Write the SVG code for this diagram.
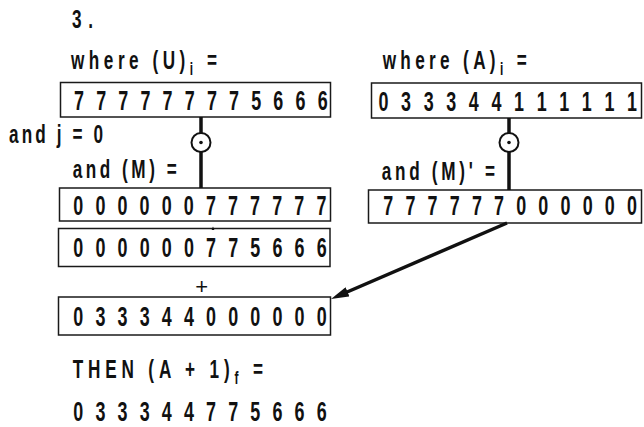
<svg xmlns="http://www.w3.org/2000/svg" width="644" height="427" viewBox="0 0 644 427">
<style>
.box{fill:none;stroke:#1a1a1a;stroke-width:1.5}
.dg{font-family:"Liberation Sans",Arial,sans-serif;font-size:28px;font-weight:bold;fill:#111;text-anchor:middle}
.lb{font-family:"Liberation Sans",Arial,sans-serif;font-size:26px;font-weight:bold;fill:#111}
.sub{font-size:18px}
.plus{font-family:"Liberation Sans",Arial,sans-serif;font-size:22px;fill:#111;text-anchor:middle}
.wire{fill:none;stroke:#111;stroke-width:3.5}
.ring{fill:#fff;stroke:#111;stroke-width:2}
.dot{fill:#111}
</style>
<defs>
<marker id="ah" markerUnits="userSpaceOnUse" markerWidth="18" markerHeight="10" refX="8" refY="5" orient="auto">
<path d="M0,0 L18,5 L0,10 z" fill="#111"/>
</marker>
</defs>
<rect width="644" height="427" fill="#fff"/>

<g id="labels">
<text class="lb" transform="scale(0.66,1)" x="109.1" y="28" font-size="29" textLength="31.8" lengthAdjust="spacing">3.</text>
<text class="lb" transform="scale(0.66,1)" x="107.58" y="69" textLength="221.2" lengthAdjust="spacing">where (U)<tspan class="sub" dy="6">i</tspan><tspan dy="-6"> =</tspan></text>
<text class="lb" transform="scale(0.66,1)" x="579.85" y="69" textLength="218.2" lengthAdjust="spacing">where (A)<tspan class="sub" dy="6">i</tspan><tspan dy="-6"> =</tspan></text>
<text class="lb" transform="scale(0.66,1)" x="13.64" y="143.5" textLength="142.4" lengthAdjust="spacing">and j = 0</text>
<text class="lb" transform="scale(0.66,1)" x="110.15" y="178.5" textLength="157.6" lengthAdjust="spacing">and (M) =</text>
<text class="lb" transform="scale(0.66,1)" x="578.33" y="180" textLength="171.7" lengthAdjust="spacing">and (M)' =</text>
<text class="plus" x="201.7" y="294.4">+</text>
<text class="lb" transform="scale(0.66,1)" x="110.15" y="378" font-size="26" textLength="288.3" lengthAdjust="spacing">THEN (A + 1)<tspan class="sub" dy="6">f</tspan><tspan dy="-6"> =</tspan></text>
<text class="dg" transform="scale(0.64,1)" x="122.34 156.92 191.5 226.08 260.66 295.23 329.81 364.39 398.97 433.55 468.13 502.7" y="421">033344775666</text>
</g>

<g id="reg-U">
<rect class="box" x="60.5" y="82.5" width="270" height="34.5"/>
<text class="dg" transform="scale(0.64,1)" x="123.44 158.05 192.66 227.27 261.88 296.48 331.09 365.7 400.31 434.92 469.53 504.14" y="110">777777775666</text>
</g>
<g id="reg-M">
<rect class="box" x="59.5" y="188" width="271" height="33"/>
<text class="dg" transform="scale(0.64,1)" x="122.34 156.88 191.41 225.94 260.47 295 329.53 364.06 398.59 433.13 467.66 502.19" y="215">000000777777</text>
</g>
<g id="reg-UM">
<rect class="box" x="58.5" y="228.5" width="271.5" height="38"/>
<text class="dg" transform="scale(0.64,1)" x="122.34 156.92 191.5 226.08 260.66 295.23 329.81 364.39 398.97 433.55 468.13 502.7" y="257">000000775666</text>
</g>
<g id="reg-AM">
<rect class="box" x="58.5" y="297" width="272" height="38"/>
<text class="dg" transform="scale(0.64,1)" x="122.34 156.92 191.5 226.08 260.66 295.23 329.81 364.39 398.97 433.55 468.13 502.7" y="326">033344000000</text>
</g>
<g id="reg-A">
<rect class="box" x="371.5" y="83" width="270" height="35"/>
<text class="dg" transform="scale(0.64,1)" x="599.22 634.52 669.81 705.11 740.41 775.7 811 846.3 881.59 916.89 952.19 987.48" y="111">033344111111</text>
</g>
<g id="reg-Mp">
<rect class="box" x="368.5" y="190" width="273" height="33"/>
<text class="dg" transform="scale(0.64,1)" x="606.72 641.33 675.94 710.55 745.16 779.77 814.38 848.98 883.59 918.2 952.81 987.42" y="215">777777000000</text>
</g>

<g id="and-left">
<circle class="ring" cx="201" cy="142.5" r="9.5"/>
<circle class="dot" cx="201" cy="142.5" r="1.8"/>
</g>
<g id="and-right">
<circle class="ring" cx="509" cy="142.5" r="9.5"/>
<circle class="dot" cx="509" cy="142.5" r="1.8"/>
</g>

<g id="connectors">
<line class="wire" x1="201" y1="117" x2="201" y2="133"/>
<line class="wire" x1="201" y1="152" x2="201" y2="188"/>
<line class="wire" x1="509" y1="118" x2="509" y2="133"/>
<line class="wire" x1="509" y1="152" x2="509" y2="190"/>
<line class="wire" x1="507" y1="223" x2="340.2" y2="295" marker-end="url(#ah)"/>
<path d="M211.6,230 L213,226.6 L214.4,230 z" fill="#111"/>
</g>
</svg>
